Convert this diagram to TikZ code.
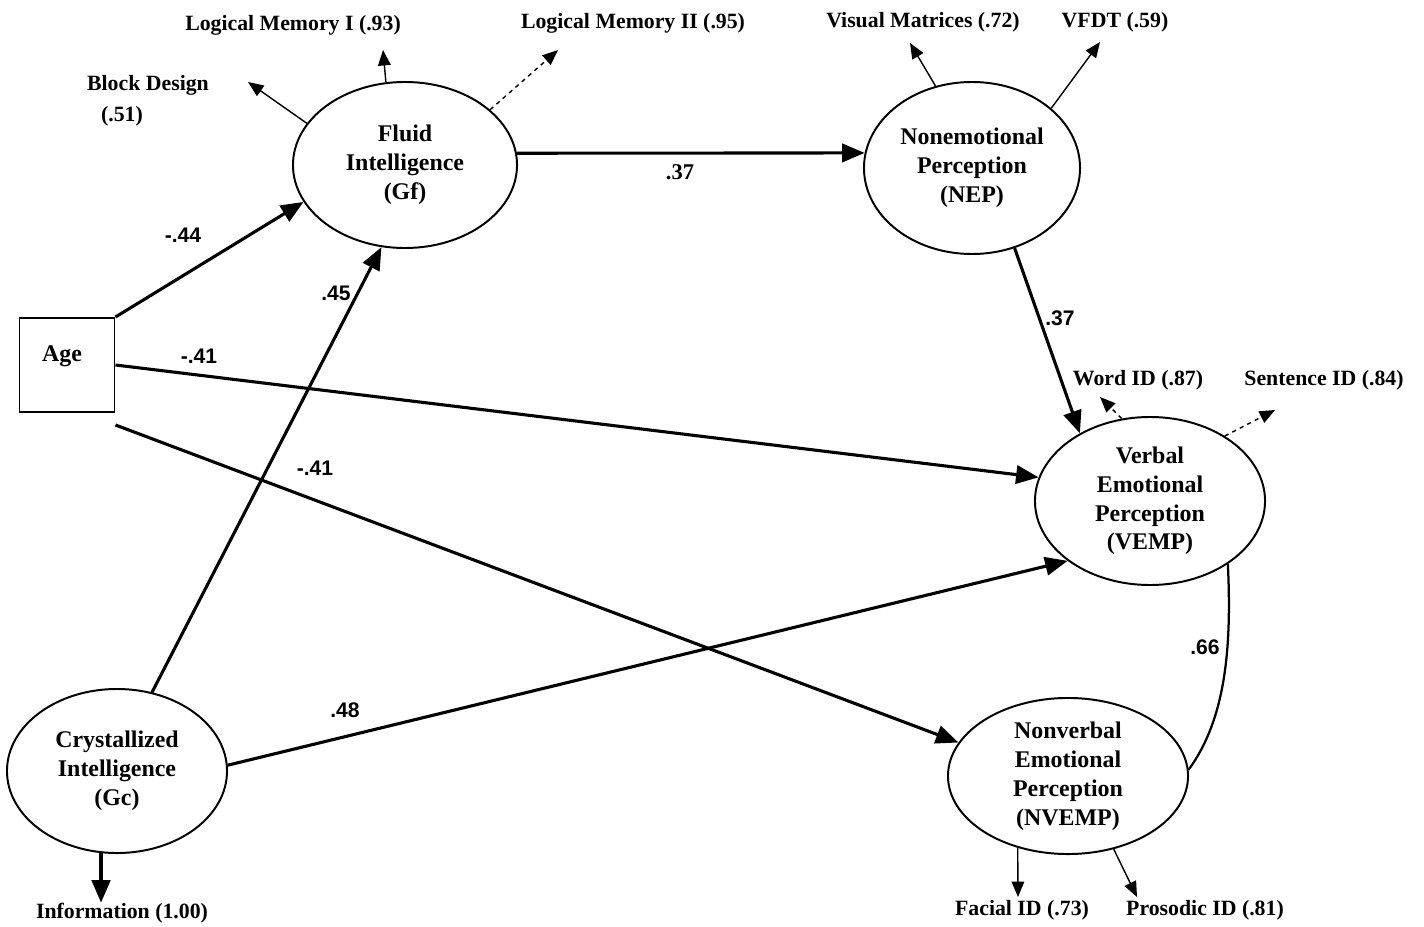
\documentclass[tikz,border=0pt]{standalone}
\usepackage{fontspec}
\setmainfont{Liberation Serif}
\newfontfamily\coeffont{Liberation Sans}
\usetikzlibrary{positioning,shapes.geometric,arrows.meta,calc}

\tikzset{
  latent/.style={draw,ellipse,line width=1.4pt,inner sep=0pt,align=center,
    font=\fontsize{17}{20.5}\selectfont\bfseries},
  manifest/.style={draw,rectangle,line width=1.4pt,minimum width=2.375cm,minimum height=2.35cm,
    font=\fontsize{17}{20}\selectfont\bfseries},
  path/.style={line width=2.2pt,-{Triangle[length=16pt,width=13pt]}},
  load/.style={line width=1pt,-{Triangle[length=11pt,width=9pt]}},
  indic/.style={font=\fontsize{15.5}{17}\selectfont\bfseries,inner sep=0pt},
  coef/.style={font=\fontsize{15}{17}\selectfont\coeffont\bfseries,inner sep=0pt},
}

\begin{document}
\begin{tikzpicture}[x=0.025cm,y=-0.025cm]
    \useasboundingbox (0,0) rectangle (1424,926);

    % latent and observed variables
    \node[manifest] (age) at (67,365) {};
    \node[font=\fontsize{17}{20}\selectfont\bfseries] (agetext) at (62,356) {Age};
    \node[latent,minimum width=5.6cm,minimum height=4.15cm] (gf) at (405,165) {Fluid\\Intelligence\\(Gf)};
    \node[latent,minimum width=5.4cm,minimum height=4.3cm] (nep) at (972,168) {Nonemotional\\Perception\\(NEP)};
    \node[latent,minimum width=5.75cm,minimum height=4.2cm] (vemp) at (1150,501) {Verbal\\Emotional\\Perception\\(VEMP)};
    \node[latent,minimum width=6cm,minimum height=3.9cm] (nvemp) at (1068,776) {Nonverbal\\Emotional\\Perception\\(NVEMP)};
    \node[latent,minimum width=5.5cm,minimum height=4.1cm] (gc) at (117,771) {Crystallized\\Intelligence\\(Gc)};

    % indicators
    \node[indic] (bd) at (148,85) {Block Design};
    \node[indic] (bdval) at (122,116) {(.51)};
    \node[indic] (lm1) at (293,25) {Logical Memory I (.93)};
    \node[indic] (lm2) at (633,23) {Logical Memory II (.95)};
    \node[indic] (vm) at (923,22) {Visual Matrices (.72)};
    \node[indic] (vfdt) at (1115,22) {VFDT (.59)};
    \node[indic] (word) at (1138,380) {Word ID (.87)};
    \node[indic] (sent) at (1324,380) {Sentence ID (.84)};
    \node[indic] (facial) at (1022,910) {Facial ID (.73)};
    \node[indic] (pros) at (1205,910) {Prosodic ID (.81)};
    \node[indic] (info) at (122,913) {Information (1.00)};

    % arrow tips of the loadings
    \coordinate (bdtip) at (248,82);
    \coordinate (lm1tip) at (383,50);
    \coordinate (lm2tip) at (558,50);
    \coordinate (vmtip) at (910,43);
    \coordinate (vfdttip) at (1100,42);
    \coordinate (wordtip) at (1100,397);
    \coordinate (senttip) at (1275,410);
    \coordinate (facialtip) at (1018,897);
    \coordinate (prostip) at (1137,897);

    % structural paths
    \draw[path] (age.north east) -- (gf.200);
    \draw[path] (age.east) -- (vemp.168);
    \draw[path] ([yshift=-0.3cm]age.south east) -- (nvemp.163);
    \draw[path] (gc.66) -- (gf.254);
    \draw[path] (gc.3) -- (vemp.216);
    \draw[path] (gf.6) -- (nep.172);
    \draw[path] (nep.298) -- (vemp.136);
    \draw[line width=1.6pt] (vemp.321) .. controls (1232,650) and (1225,720) .. (nvemp.3);
    \draw[path,line width=2.6pt] (gc.259) -- (gc.259 |- info.north);

    % loadings
    \draw[load] (gf.157) -- (bdtip);
    \draw[load] (gf.103) -- (lm1tip);
    \draw[load,dashed] (gf.33) -- (lm2tip);
    \draw[load] (nep.114) -- (vmtip);
    \draw[load] (nep.37) -- (vfdttip);
    \draw[load,dashed] (vemp.109) -- (wordtip);
    \draw[load,dashed] (vemp.41) -- (senttip);
    \draw[load] (nvemp.235) -- (facialtip);
    \draw[load] (nvemp.302) -- (prostip);

    % coefficients
    \node[coef] (c1) at (183,235) {-.44};
    \node[coef] (c2) at (336,293) {.45};
    \node[coef] (c3) at (199,356) {-.41};
    \node[coef] (c4) at (315,468) {-.41};
    \node[coef] (c5) at (345,710) {.48};
    \node[indic,font=\fontsize{16}{18}\selectfont\bfseries] (c6) at (680,172) {.37};
    \node[coef] (c7) at (1060,318) {.37};
    \node[coef] (c8) at (1205,647) {.66};
\end{tikzpicture}
\end{document}
